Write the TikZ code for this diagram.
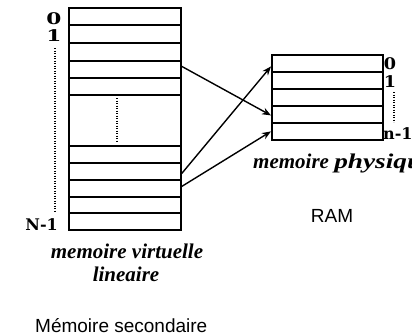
\documentclass[tikz,border=0pt]{standalone}
\usepackage{fontspec}
\setmainfont{Liberation Serif}
\newfontfamily\sansf{Liberation Sans}
\newfontfamily\labf{DejaVu Serif}
\usetikzlibrary{arrows.meta}
\begin{document}
\begin{tikzpicture}[x=1pt,y=-1pt,
  cell/.style={draw, line width=1.8pt, inner sep=0pt, anchor=north west},
  lcell/.style={cell, minimum width=112pt},
  rcell/.style={cell, minimum width=111pt, minimum height=17pt},
  numlab/.style={inner sep=0pt, font=\labf\bfseries\fontsize{16}{16}\selectfont},
  vlab/.style={inner sep=0pt, font=\fontsize{21}{21}\selectfont\bfseries\itshape},
  sanslab/.style={inner sep=0pt, font=\sansf\fontsize{19}{19}\selectfont},
  dotline/.style={line width=2pt, dash pattern=on 1.2pt off 1.3pt},
  arr/.style={line width=1.4pt, -{Stealth[length=9pt,width=7pt]}}]
\useasboundingbox (0,0) rectangle (412,335);
% left (virtual memory) cells
\node[lcell, minimum height=17pt] (L1) at (68,7) {};
\node[lcell, minimum height=18pt] (L2) at (68,24) {};
\node[lcell, minimum height=18pt] (L3) at (68,42) {};
\node[lcell, minimum height=17pt] (L4) at (68,60) {};
\node[lcell, minimum height=17pt] (L5) at (68,77) {};
\node[lcell, minimum height=51pt] (L6) at (68,94) {};
\node[lcell, minimum height=17pt] (L7) at (68,145) {};
\node[lcell, minimum height=17pt] (L8) at (68,162) {};
\node[lcell, minimum height=17pt] (L9) at (68,179) {};
\node[lcell, minimum height=16pt] (L10) at (68,196) {};
\node[lcell, minimum height=17pt] (L11) at (68,212) {};
% right (physical memory) cells
\node[rcell] (R1) at (271,54) {};
\node[rcell] (R2) at (271,71) {};
\node[rcell] (R3) at (271,88) {};
\node[rcell] (R4) at (271,105) {};
\node[rcell] (R5) at (271,122) {};
% dotted ellipses
\draw[dotline] (55,48) -- (55,211);
\draw[dotline] (117,98) -- (117,141);
\draw[dotline] (394,92) -- (394,122);
% index labels
\node[numlab] (l0) at (54,19) {\scalebox{1.35}[1]{0}};
\node[numlab] (l1) at (54,36) {\scalebox{1.35}[1]{1}};
\node[numlab, anchor=east] (lN) at (58,225) {N-1};
\node[numlab] (r0) at (390,64) {\scalebox{1.1}[1]{0}};
\node[numlab] (r1) at (390,82) {\scalebox{1.1}[1]{1}};
\node[numlab, anchor=base west] (rn) at (383,139) {n-1};
% captions
\node[vlab, anchor=base] (mv) at (127,258) {memoire virtuelle};
\node[vlab, anchor=base] (li) at (126,281) {lineaire};
\node[vlab, anchor=base west] (mp) at (253,168) {memoire \scalebox{1.3}[1]{physique}};
\node[sanslab] (ram) at (332,216) {RAM};
\node[sanslab, anchor=base west] (ms) at (35,332) {Mémoire secondaire};
% mappings
\draw[arr] ([yshift=3pt]L4.east) -- ([yshift=-1pt]R4.west);
\draw[arr] ([yshift=-2pt]L8.east) -- ([yshift=-3pt]R1.west);
\draw[arr] ([yshift=2pt]L9.east) -- (R5.west);
\end{tikzpicture}
\end{document}
